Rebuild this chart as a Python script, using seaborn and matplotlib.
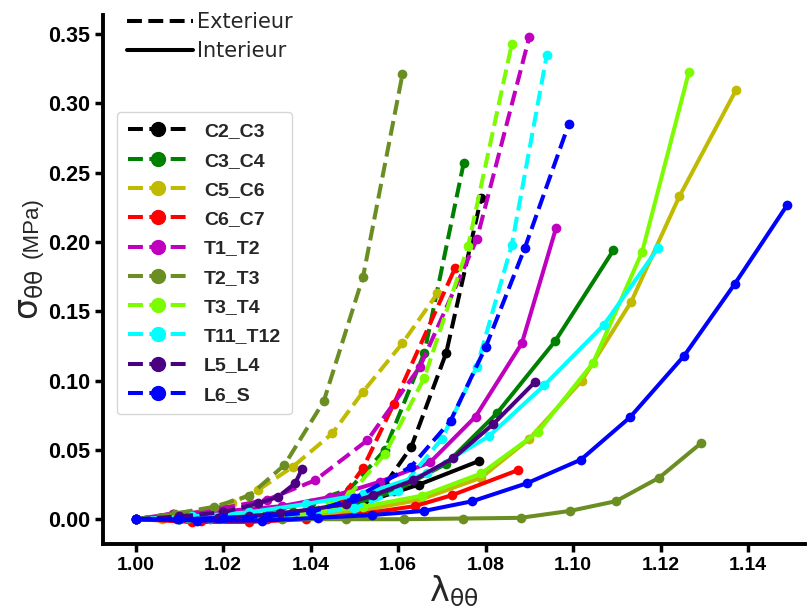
import pandas as pd
import seaborn as sns
import matplotlib.pyplot as plt
from matplotlib.lines import Line2D

# segment names and colours
segments = ["C2_C3", "C3_C4", "C5_C6", "C6_C7", "T1_T2",
            "T2_T3", "T3_T4", "T11_T12", "L5_L4", "L6_S"]
colors = ["black", "green", "#c0bb00", "red", "#bf00bf",
          "#6b8e23", "#7cfc00", "cyan", "indigo", "blue"]

# Exterieur (dashed) curves: stretch and stress (MPa)
ext_x = {
    "C2_C3": [1.0, 1.01, 1.02, 1.03, 1.04, 1.05, 1.057, 1.063, 1.071, 1.079],
    "C3_C4": [1.0, 1.01, 1.02, 1.03, 1.04, 1.049, 1.057, 1.066, 1.075],
    "C5_C6": [1.0, 1.006, 1.014, 1.022, 1.028, 1.036, 1.045, 1.052, 1.061, 1.069],
    "C6_C7": [1.0, 1.015, 1.03, 1.041, 1.047, 1.052, 1.059, 1.073],
    "T1_T2": [1.0, 1.0085, 1.02, 1.03, 1.041, 1.053, 1.065, 1.078, 1.090],
    "T2_T3": [1.0, 1.009, 1.018, 1.026, 1.034, 1.043, 1.052, 1.061],
    "T3_T4": [1.0, 1.01, 1.02, 1.03, 1.04, 1.049, 1.057, 1.066, 1.076, 1.086],
    "T11_T12": [1.0, 1.01, 1.02, 1.03, 1.04, 1.05, 1.06, 1.070, 1.078, 1.086, 1.094],
    "L5_L4": [1.0, 1.01, 1.02, 1.028, 1.0325, 1.0365, 1.038],
    "L6_S": [1.0, 1.01, 1.02, 1.03, 1.04, 1.05, 1.063, 1.072, 1.080, 1.089, 1.099],
}
ext_y = {
    "C2_C3": [0, 0, 0.001, 0.002, 0.005, 0.012, 0.025, 0.052, 0.120, 0.232],
    "C3_C4": [0, 0.001, 0.003, 0.006, 0.012, 0.022, 0.050, 0.120, 0.257],
    "C5_C6": [0, 0, 0.004, 0.0115, 0.021, 0.038, 0.062, 0.092, 0.127, 0.163],
    "C6_C7": [0, -0.001, 0, 0.004, 0.015, 0.037, 0.083, 0.181],
    "T1_T2": [0, 0.004, 0.008, 0.014, 0.028, 0.057, 0.110, 0.202, 0.348],
    "T2_T3": [0, 0.004, 0.009, 0.017, 0.039, 0.085, 0.175, 0.321],
    "T3_T4": [0, 0, 0.001, 0.002, 0.006, 0.018, 0.047, 0.102, 0.197, 0.343],
    "T11_T12": [0, 0, 0.001, 0.002, 0.004, 0.008, 0.020, 0.058, 0.110, 0.198, 0.335],
    "L5_L4": [0, 0.002, 0.005, 0.0115, 0.016, 0.026, 0.036],
    "L6_S": [0, 0, 0.001, 0.002, 0.005, 0.015, 0.038, 0.071, 0.124, 0.196, 0.285],
}

# Interieur (solid) curves
int_x = {
    "C2_C3": [1.0, 1.013, 1.026, 1.039, 1.052, 1.0648, 1.0785],
    "C3_C4": [1.0, 1.012, 1.024, 1.036, 1.048, 1.059, 1.071, 1.0826, 1.0959, 1.1092],
    "C5_C6": [1.0, 1.012, 1.025, 1.038, 1.051, 1.065, 1.079, 1.090, 1.102, 1.1133, 1.1243, 1.1373],
    "C6_C7": [1.0, 1.013, 1.026, 1.039, 1.052, 1.0638, 1.0723, 1.0874],
    "T1_T2": [1.0, 1.0085, 1.021, 1.0334, 1.0444, 1.0558, 1.0673, 1.0777, 1.0883, 1.0961],
    "T2_T3": [1.0, 1.017, 1.0334, 1.048, 1.0613, 1.0748, 1.088, 1.0993, 1.1098, 1.1197, 1.1293],
    "T3_T4": [1.0, 1.012, 1.025, 1.038, 1.052, 1.0655, 1.079, 1.092, 1.1046, 1.1158, 1.1265],
    "T11_T12": [1.0, 1.013, 1.026, 1.039, 1.052, 1.0665, 1.0808, 1.0934, 1.1071, 1.1195],
    "L5_L4": [1.0, 1.0094, 1.0188, 1.026, 1.033, 1.040, 1.048, 1.0543, 1.0634, 1.0726, 1.0817, 1.0913],
    "L6_S": [1.0, 1.014, 1.029, 1.0416, 1.054, 1.066, 1.077, 1.0895, 1.1018, 1.113, 1.1254, 1.137, 1.149],
}
int_y = {
    "C2_C3": [0, 0.001, 0.002, 0.005, 0.012, 0.025, 0.042],
    "C3_C4": [0, 0.001, 0.002, 0.005, 0.009, 0.020, 0.040, 0.0765, 0.1285, 0.194],
    "C5_C6": [0, 0, 0.001, 0.003, 0.006, 0.014, 0.030, 0.058, 0.100, 0.157, 0.233, 0.310],
    "C6_C7": [0, -0.002, -0.002, 0, 0.004, 0.0094, 0.0173, 0.0354],
    "T1_T2": [0, 0.004, 0.006, 0.0094, 0.016, 0.027, 0.041, 0.074, 0.127, 0.210],
    "T2_T3": [0, 0, 0, 0, 0, 0.0005, 0.001, 0.006, 0.013, 0.030, 0.055],
    "T3_T4": [0, 0.001, 0.002, 0.004, 0.009, 0.017, 0.033, 0.063, 0.113, 0.193, 0.323],
    "T11_T12": [0, 0.002, 0.005, 0.011, 0.018, 0.033, 0.060, 0.0966, 0.1405, 0.196],
    "L5_L4": [0, 0, 0.0007, 0.002, 0.0043, 0.007, 0.011, 0.0173, 0.028, 0.044, 0.0685, 0.099],
    "L6_S": [0, -0.001, -0.001, 0.001, 0.003, 0.006, 0.013, 0.026, 0.043, 0.0735, 0.118, 0.170, 0.227],
}

rows = []
for seg in segments:
    for xv, yv in zip(ext_x[seg], ext_y[seg]):
        rows.append((seg, "Exterieur", xv, yv))
    for xv, yv in zip(int_x[seg], int_y[seg]):
        rows.append((seg, "Interieur", xv, yv))
df = pd.DataFrame(rows, columns=["segment", "side", "lam", "sigma"])

sns.set_style("ticks")
plt.rcParams["mathtext.fontset"] = "custom"
plt.rcParams["mathtext.rm"] = "Liberation Sans"
plt.rcParams["mathtext.default"] = "regular"

fig = plt.figure(figsize=(8.09, 6.08), dpi=100)
ax = fig.add_axes([0.127, 0.105, 0.868, 0.870])

lw = 2.9
for seg, col in zip(segments, colors):
    for side, ls in (("Exterieur", "--"), ("Interieur", "-")):
        sub = df[(df.segment == seg) & (df.side == side)]
        sns.lineplot(data=sub, x="lam", y="sigma", color=col, linestyle=ls,
                     lw=lw, marker="o", markersize=7, markeredgewidth=0,
                     sort=False, legend=False, ax=ax)

ax.set_xlim(0.9925, 1.153)
ax.set_ylim(-0.018, 0.3637)
ax.set_xticks([1.00, 1.02, 1.04, 1.06, 1.08, 1.10, 1.12, 1.14])
ax.set_yticks([0.00, 0.05, 0.10, 0.15, 0.20, 0.25, 0.30, 0.35])
ax.set_xticklabels(["%.2f" % v for v in ax.get_xticks()],
                   family="Liberation Sans", weight="bold", fontsize=14)
ax.set_yticklabels(["%.2f" % v for v in ax.get_yticks()],
                   family="Liberation Sans", weight="bold", fontsize=15.5)
ax.tick_params(width=2.5, length=6, direction="out", colors="black", pad=3)
sns.despine(ax=ax)
for s in ("left", "bottom"):
    ax.spines[s].set_linewidth(2.8)
    ax.spines[s].set_color("black")

ax.set_xlabel(r"$\lambda_{\theta\theta}$", fontsize=24, labelpad=0)
ax.set_ylabel("")
fig.text(0.036, 0.515, r"$\sigma_{\theta\theta}$", rotation=90, fontsize=24,
         ha="center", va="center")
fig.text(0.040, 0.625, "(MPa)", rotation=90, fontsize=16,
         family="Liberation Sans", ha="center", va="center")

# legend for line style
style_handles = [Line2D([], [], color="black", lw=lw, linestyle="--"),
                 Line2D([], [], color="black", lw=lw, linestyle="-")]
leg1 = ax.legend(style_handles, ["Exterieur", "Interieur"], loc="upper left",
                 bbox_to_anchor=(0.022, 1.022), frameon=False, fontsize=15,
                 handlelength=3.2, handletextpad=0.2, labelspacing=0.45,
                 borderaxespad=0)
ax.add_artist(leg1)

# legend for segments
seg_handles = [Line2D([], [], color=c, lw=lw, linestyle="--", marker="o",
                      markersize=10) for c in colors]
leg2 = ax.legend(seg_handles, segments, loc="upper left",
                 bbox_to_anchor=(0.021, 0.817), frameon=True, borderaxespad=0,
                 prop={"family": "Liberation Sans", "weight": "bold", "size": 14},
                 handlelength=3.1, handletextpad=0.8, labelspacing=0.6,
                 borderpad=0.55, fancybox=True)
leg2.get_frame().set_edgecolor("#cccccc")

fig.savefig("out.png", dpi=100)
